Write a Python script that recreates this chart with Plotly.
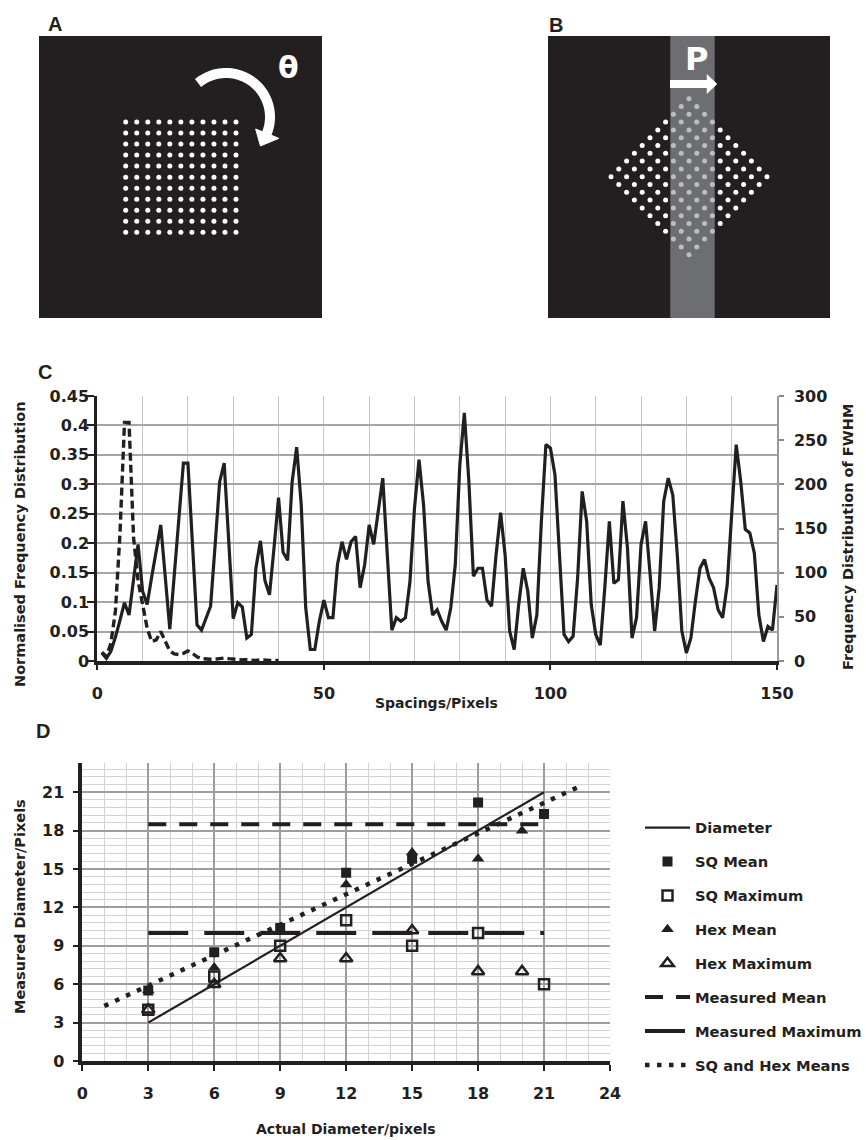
import numpy as np
import plotly.graph_objects as go

W, H = 866, 1140
INK = "#231f20"
FONT = "DejaVu Sans"

# ---------------- Panel C data ----------------
spacing_x = list(range(1, 151))
fwhm_freq = [9, 3, 11, 27, 46, 66, 52, 91, 132, 79,
             64, 95, 126, 154, 95, 36, 98, 161, 224, 224,
             132, 41, 35, 48, 62, 131, 203, 224, 137, 48,
             66, 61, 26, 30, 105, 136, 91, 75, 128, 185,
             123, 114, 203, 242, 177, 60, 13, 13, 45, 69,
             49, 49, 109, 135, 115, 135, 141, 83, 109, 154,
             132, 169, 207, 120, 35, 49, 45, 49, 90, 173,
             228, 177, 90, 52, 58, 45, 35, 60, 109, 222,
             281, 203, 96, 105, 105, 69, 62, 120, 168, 120,
             34, 13, 64, 105, 79, 26, 52, 158, 245, 241,
             211, 120, 30, 22, 28, 94, 192, 158, 64, 30,
             18, 83, 158, 88, 92, 181, 128, 26, 49, 132,
             158, 98, 34, 83, 181, 207, 188, 120, 34, 9,
             26, 68, 105, 115, 94, 83, 58, 49, 86, 166,
             245, 203, 149, 145, 122, 52, 22, 39, 35, 86]
norm_x = list(range(1, 41))
norm_freq = [0.015, 0.008, 0.03, 0.085, 0.215, 0.405, 0.405, 0.21, 0.136, 0.092,
             0.056, 0.033, 0.036, 0.05, 0.033, 0.017, 0.012, 0.011, 0.013, 0.017,
             0.013, 0.007, 0.004, 0.003, 0.003, 0.003, 0.004, 0.005, 0.004, 0.003,
             0.002, 0.002, 0.002, 0.001, 0.001, 0.002, 0.001, 0.001, 0.001, 0.001]
c_left_ticks = [0, 0.05, 0.1, 0.15, 0.2, 0.25, 0.3, 0.35, 0.4, 0.45]
c_left_labels = ["0", "0.05", "0.1", "0.15", "0.2", "0.25", "0.3", "0.35", "0.4", "0.45"]

# ---------------- Panel D data ----------------
diam_x = [3, 21]
diam_y = [3, 21]
sq_x = [3, 6, 9, 12, 15, 18, 21]
sq_mean = [5.5, 8.5, 10.4, 14.7, 15.8, 20.2, 19.3]
sq_max = [4.0, 6.6, 9.0, 11.0, 9.0, 10.0, 6.0]
hex_x = [3, 6, 9, 12, 15, 18, 20]
hex_mean = [5.5, 7.3, 10.2, 13.8, 16.3, 15.8, 18.0]
hex_max = [4.0, 6.0, 8.0, 8.0, 10.2, 7.0, 7.0]
meas_x = [3, 21]
meas_mean = [18.5, 18.5]
meas_max = [10.0, 10.0]
trend_x = [1, 22.8]
trend_y = [4.3, 21.6]

# ---------------- Panels A/B schematic parameters ----------------
grid_n = 11
pitch = 11.03
a_origin = (125.7, 122.0)
b_center = (689.0, 176.7)
band_x = (670.3, 714.7)


def fx(px):
    return px / W


def fy(py):
    return 1 - py / H


fig = go.Figure()

# Panel C traces
fig.add_trace(go.Scatter(x=norm_x, y=norm_freq, xaxis="x", yaxis="y", mode="lines",
                         line=dict(color=INK, width=3.4, dash="8px,4px"), showlegend=False,
                         hoverinfo="skip"))
fig.add_trace(go.Scatter(x=spacing_x, y=fwhm_freq, xaxis="x", yaxis="y2", mode="lines",
                         line=dict(color=INK, width=3.2), showlegend=False, hoverinfo="skip"))

# Panel D traces
def dtrace(**kw):
    kw.setdefault("xaxis", "x2")
    kw.setdefault("yaxis", "y3")
    kw["legendgroup"] = kw["name"]
    fig.add_trace(go.Scatter(**kw))

dtrace(name="Diameter", x=diam_x, y=diam_y, mode="lines", line=dict(color=INK, width=2.2))
dtrace(name="SQ Mean", x=sq_x, y=sq_mean, mode="markers",
       marker=dict(symbol="square", size=10, color=INK))
dtrace(name="SQ Maximum", x=sq_x, y=sq_max, mode="markers",
       marker=dict(symbol="square-open", size=10, color=INK, line=dict(width=2.5, color=INK)))
dtrace(name="Hex Mean", x=hex_x, y=hex_mean, mode="markers",
       marker=dict(symbol="triangle-up", size=11, color=INK))
dtrace(name="Hex Maximum", x=hex_x, y=hex_max, mode="markers",
       marker=dict(symbol="triangle-up-open", size=11, color=INK, line=dict(width=2.5, color=INK)))
dtrace(name="Measured Mean", x=meas_x, y=meas_mean, mode="lines",
       line=dict(color=INK, width=4, dash="18px,13px"))
dtrace(name="Measured Maximum", x=meas_x, y=meas_max, mode="lines",
       line=dict(color=INK, width=4, dash="40px,16px"))
dtrace(name="SQ and Hex Means", x=trend_x, y=trend_y, mode="lines",
       line=dict(color=INK, width=4.5, dash="4.5px,7.5px"))

# Panel A dots
ax_d = [a_origin[0] + i * pitch for j in range(grid_n) for i in range(grid_n)]
ay_d = [a_origin[1] + j * pitch for j in range(grid_n) for i in range(grid_n)]
fig.add_trace(go.Scatter(x=ax_d, y=ay_d, xaxis="x3", yaxis="y4", mode="markers",
                         marker=dict(size=5, color="white"), showlegend=False, hoverinfo="skip"))

# Panel B dots (same grid rotated 45 degrees)
half = (grid_n - 1) / 2
dstep = pitch / np.sqrt(2)
bx_d, by_d, bc = [], [], []
for j in range(grid_n):
    for i in range(grid_n):
        x = b_center[0] + (i - j) * dstep
        y = b_center[1] + (i + j - 2 * half) * dstep
        bx_d.append(x)
        by_d.append(y)
        bc.append("#bdbec0" if band_x[0] <= x <= band_x[1] else "white")
fig.add_trace(go.Scatter(x=bx_d, y=by_d, xaxis="x4", yaxis="y5", mode="markers",
                         marker=dict(size=5, color=bc), showlegend=False, hoverinfo="skip"))

# ---------------- shapes for A/B ----------------
shapes = []
shapes.append(dict(type="rect", xref="x3", yref="y4", x0=39, x1=322, y0=36, y1=318,
                   fillcolor=INK, line=dict(width=0), layer="below"))
shapes.append(dict(type="rect", xref="x4", yref="y5", x0=548, x1=830, y0=36, y1=318,
                   fillcolor=INK, line=dict(width=0), layer="below"))
shapes.append(dict(type="rect", xref="x4", yref="y5", x0=band_x[0], x1=band_x[1], y0=36, y1=318,
                   fillcolor="#6d6e71", line=dict(width=0), layer="below"))

# curved rotation arrow in A
cx, cy, r = 226.0, 117.0, 44.0
ts = np.radians(np.linspace(129.5, -22.0, 50))
pts = [(cx + r * np.cos(t), cy - r * np.sin(t)) for t in ts]
path = "M " + " L ".join(f"{x:.2f},{y:.2f}" for x, y in pts)
shapes.append(dict(type="path", xref="x3", yref="y4", path=path,
                   line=dict(color="white", width=10)))
tb = np.radians(-22.0)
tt = np.radians(-40.0)
p_in = (cx + 32 * np.cos(tb), cy - 32 * np.sin(tb))
p_out = (cx + 57 * np.cos(tb), cy - 57 * np.sin(tb))
tip = (cx + 45 * np.cos(tt), cy - 45 * np.sin(tt))
shapes.append(dict(type="path", xref="x3", yref="y4",
                   path=f"M {p_in[0]:.2f},{p_in[1]:.2f} L {p_out[0]:.2f},{p_out[1]:.2f} L {tip[0]:.2f},{tip[1]:.2f} Z",
                   fillcolor="white", line=dict(color="white", width=1)))

# straight arrow in B
shapes.append(dict(type="rect", xref="x4", yref="y5", x0=670, x1=708, y0=80, y1=88,
                   fillcolor="white", line=dict(width=0)))
shapes.append(dict(type="path", xref="x4", yref="y5", path="M 707,74.5 L 717,84 L 707,93.5 Z",
                   fillcolor="white", line=dict(color="white", width=0.5)))

# ---------------- annotations ----------------
def ann(text, x, y, size, color=INK, angle=0, family=FONT):
    return dict(text=text, x=fx(x), y=fy(y), xref="paper", yref="paper", showarrow=False,
                xanchor="center", yanchor="middle", textangle=angle,
                font=dict(family=family, size=size, color=color, weight="bold"))

annotations = [
    ann("A", 55, 24, 20, family="Liberation Sans"),
    ann("B", 555.5, 24.5, 20, family="Liberation Sans"),
    ann("C", 45, 372.5, 20, family="Liberation Sans"),
    ann("D", 42.5, 731, 20, family="Liberation Sans"),
    ann("θ", 288, 68, 30, color="white"),
    ann("P", 696, 59, 32, color="white"),
    ann("Spacings/Pixels", 436.5, 703, 14),
    ann("Normalised Frequency Distribution", 20, 545, 14.5, angle=-90),
    ann("Frequency Distribution of FWHM", 848, 537, 14.5, angle=-90),
    ann("Measured Diameter/Pixels", 20, 907, 14.5, angle=-90),
    ann("Actual Diameter/pixels", 346, 1129, 14),
]

tickfont = dict(family=FONT, size=16, color=INK, weight="bold")

fig.update_layout(
    width=W, height=H, margin=dict(l=0, r=0, t=0, b=0, pad=0, autoexpand=False),
    paper_bgcolor="white", plot_bgcolor="rgba(0,0,0,0)",
    font=dict(family=FONT, color=INK, weight="bold"),
    shapes=shapes, annotations=annotations,
    showlegend=True,
    legend=dict(x=fx(640), y=fy(811.5), xanchor="left", yanchor="top",
                font=dict(family=FONT, size=14.7, color=INK, weight="bold"),
                tracegroupgap=11.8, traceorder="grouped", itemwidth=45,
                bgcolor="rgba(0,0,0,0)"),
    # Panel C
    xaxis=dict(domain=[fx(97.3), fx(777)], range=[0, 150], anchor="y",
               tickmode="linear", tick0=0, dtick=50, ticks="outside", ticklen=5, tickwidth=2,
               tickcolor=INK, showline=True, linewidth=4, linecolor=INK,
               showgrid=True, gridcolor="#c6c6c6", gridwidth=1.4,
               minor=dict(tick0=0, dtick=10, showgrid=True, gridcolor="#c6c6c6", gridwidth=1.4),
               zeroline=False, tickfont=tickfont, ticklabelstandoff=10, fixedrange=True,
               automargin=False),
    yaxis=dict(domain=[fy(661), fy(396)], range=[0, 0.45], anchor="x",
               tickmode="array", tickvals=c_left_ticks, ticktext=c_left_labels,
               ticks="outside", ticklen=7, tickwidth=2, tickcolor=INK,
               showline=True, linewidth=3, linecolor=INK,
               showgrid=True, gridcolor="#a6a6a6", gridwidth=1.5,
               zeroline=False, tickfont=tickfont, ticklabelstandoff=-5, fixedrange=True,
               automargin=False),
    yaxis2=dict(overlaying="y", side="right", anchor="x", range=[0, 300],
                tickmode="linear", tick0=0, dtick=50, ticks="outside", ticklen=5, tickwidth=1.5,
                tickcolor="#8a8a8a", showline=True, linewidth=1.5, linecolor="#9a9a9a",
                showgrid=False, zeroline=False, tickfont=tickfont, ticklabelstandoff=7,
                fixedrange=True, automargin=False),
    # Panel D
    xaxis2=dict(domain=[fx(82.3), fx(610)], range=[0, 24], anchor="y3",
                tickmode="linear", tick0=0, dtick=3, ticks="outside", ticklen=6, tickwidth=2,
                tickcolor=INK, showline=True, linewidth=3.5, linecolor=INK,
                showgrid=True, gridcolor="#9d9d9d", gridwidth=1.5,
                minor=dict(tick0=0, dtick=1, showgrid=True, gridcolor="#d3d3d3", gridwidth=1),
                zeroline=False, tickfont=tickfont, ticklabelstandoff=9, fixedrange=True,
                automargin=False),
    yaxis3=dict(domain=[fy(1061), fy(762.8)], range=[0, 23.3], anchor="x2",
                tickmode="linear", tick0=0, dtick=3, ticks="outside", ticklen=6, tickwidth=2,
                tickcolor=INK, showline=True, linewidth=3.5, linecolor=INK,
                showgrid=True, gridcolor="#9d9d9d", gridwidth=1.5,
                minor=dict(tick0=0, dtick=0.6, showgrid=True, gridcolor="#d3d3d3", gridwidth=1),
                zeroline=False, tickfont=tickfont, ticklabelstandoff=5, fixedrange=True,
                automargin=False),
    # Panel A
    xaxis3=dict(domain=[fx(39), fx(322)], range=[39, 322], anchor="y4", visible=False,
                fixedrange=True),
    yaxis4=dict(domain=[fy(318), fy(36)], range=[318, 36], anchor="x3", visible=False,
                fixedrange=True),
    # Panel B
    xaxis4=dict(domain=[fx(548), fx(830)], range=[548, 830], anchor="y5", visible=False,
                fixedrange=True),
    yaxis5=dict(domain=[fy(318), fy(36)], range=[318, 36], anchor="x4", visible=False,
                fixedrange=True),
)

fig.write_html("out.html", config={"displayModeBar": False},
               post_script="document.body.style.margin='0px';document.body.style.overflow='hidden';")
